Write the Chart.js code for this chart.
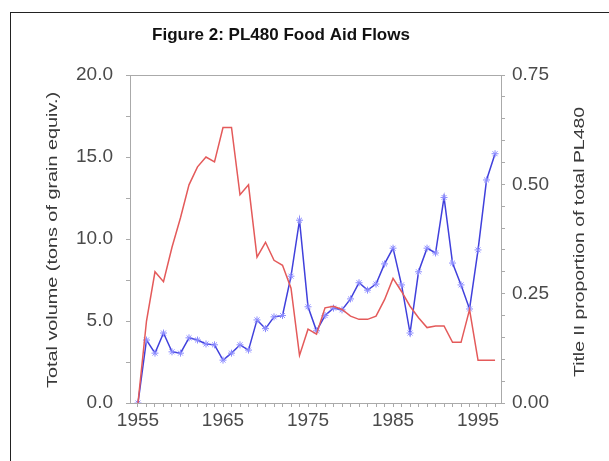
<!DOCTYPE html>
<html>
<head>
<meta charset="utf-8">
<script src="https://cdn.jsdelivr.net/npm/chart.js@4"></script>
<style>
    body { margin: 0; background: #fff; }
    #wrap { position: relative; width: 609px; height: 461px; overflow: hidden; }
    #frame { position: absolute; left: 10px; top: 12px; width: 700px; height: 600px; border: 1px solid #222; }
    #chart { position: absolute; left: 0; top: 0; }
</style>
</head>
<body>
<div id="wrap">
    <div id="frame"></div>
    <canvas id="chart" width="609" height="461"></canvas>
</div>
<script>
// Years on the x axis
const years = [1955, 1956, 1957, 1958, 1959, 1960, 1961, 1962, 1963, 1964,
    1965, 1966, 1967, 1968, 1969, 1970, 1971, 1972, 1973, 1974,
    1975, 1976, 1977, 1978, 1979, 1980, 1981, 1982, 1983, 1984,
    1985, 1986, 1987, 1988, 1989, 1990, 1991, 1992, 1993, 1994,
    1995, 1996, 1997];

// Total volume (left axis)
const totalVolume = [0, 5.0, 8.0, 7.4, 9.5, 11.3, 13.3, 14.4, 15.0, 14.7,
    16.8, 16.8, 12.7, 13.3, 8.9, 9.8, 8.7, 8.4, 7.0, 2.9,
    4.5, 4.2, 5.8, 5.9, 5.7, 5.3, 5.1, 5.1, 5.3, 6.3,
    7.6, 6.8, 5.9, 5.2, 4.6, 4.7, 4.7, 3.7, 3.7, 5.7,
    2.6, 2.6, 2.6];

// Title II proportion of total PL480 (right axis)
const titleIIShare = [0, 0.144, 0.114, 0.16, 0.117, 0.114, 0.149, 0.144, 0.135, 0.133,
    0.098, 0.114, 0.133, 0.121, 0.19, 0.17, 0.197, 0.2, 0.29, 0.418,
    0.22, 0.165, 0.2, 0.217, 0.213, 0.238, 0.275, 0.258, 0.272, 0.318,
    0.354, 0.27, 0.16, 0.30, 0.354, 0.343, 0.47, 0.32, 0.27, 0.215,
    0.35, 0.51, 0.57];

// Tick values
const yearTicks = years;
const labelledYears = [1955, 1965, 1975, 1985, 1995];
const leftTicks = [0, 2.5, 5, 7.5, 10, 12.5, 15, 17.5, 20];
const rightTicks = [0, 0.05, 0.1, 0.15, 0.2, 0.25, 0.3, 0.35, 0.4, 0.45, 0.5, 0.55, 0.6, 0.65, 0.7, 0.75];
const rightLabelled = [0, 0.25, 0.5, 0.75];

const fontFamily = 'Liberation Sans, Arial, sans-serif';
const tickFont = { family: fontFamily, size: 19 };

// draw vertical text (bottom to top) stretched to a given length
function verticalText(ctx, text, x, y, length) {
    ctx.save();
    ctx.font = '14px ' + fontFamily;
    const w = ctx.measureText(text).width;
    ctx.translate(x, y);
    ctx.rotate(-Math.PI / 2);
    ctx.scale(length / w, 1);
    ctx.fillText(text, 0, 0);
    ctx.restore();
}

// Title, axis titles and top border of the plot
const decorPlugin = {
    id: 'decor',
    afterDraw(chart) {
        const ctx = chart.ctx;
        const area = chart.chartArea;
        ctx.save();
        ctx.strokeStyle = '#aaa';
        ctx.lineWidth = 1;
        ctx.beginPath();
        ctx.moveTo(area.left, area.top + 0.5);
        ctx.lineTo(area.right, area.top + 0.5);
        ctx.stroke();

        ctx.fillStyle = '#111';
        ctx.font = 'bold 17px ' + fontFamily;
        ctx.textAlign = 'center';
        ctx.textBaseline = 'middle';
        ctx.fillText('Figure 2: PL480 Food Aid Flows', 281, 35);

        ctx.fillStyle = '#3a3a3a';
        verticalText(ctx, 'Total volume (tons of grain equiv.)', 53, 240, 296);
        verticalText(ctx, 'Title II proportion of total PL480', 580, 242, 270);
        ctx.restore();
    }
};

new Chart(document.getElementById('chart'), {
    type: 'line',
    data: {
        datasets: [{
            label: 'Total volume',
            data: years.map((y, i) => ({ x: y, y: totalVolume[i] })),
            yAxisID: 'y',
            borderColor: '#e45a5a',
            borderWidth: 1.5,
            pointRadius: 0,
            tension: 0
        }, {
            label: 'Title II proportion',
            data: years.map((y, i) => ({ x: y, y: titleIIShare[i] })),
            yAxisID: 'y1',
            borderColor: '#4040dc',
            borderWidth: 1.5,
            pointStyle: 'star',
            pointRadius: 3.5,
            pointBorderColor: '#8c8cff',
            pointBorderWidth: 1,
            tension: 0
        }]
    },
    options: {
        responsive: false,
        animation: false,
        layout: { padding: { top: 75, left: 0, right: 0, bottom: 0 } },
        plugins: {
            legend: { display: false },
            tooltip: { enabled: false }
        },
        scales: {
            x: {
                type: 'linear',
                min: 1954.06,
                max: 1997.7,
                afterBuildTicks: (scale) => { scale.ticks = yearTicks.map(v => ({ value: v })); },
                afterFit: (scale) => { scale.height = 58; },
                ticks: {
                    autoSkip: false,
                    maxRotation: 0,
                    font: tickFont,
                    color: '#4a4a4a',
                    padding: 2,
                    callback: (v) => labelledYears.includes(v) ? String(v) : ''
                },
                grid: { drawOnChartArea: false, tickLength: 4, color: '#aaa' },
                border: { color: '#aaa' }
            },
            y: {
                position: 'left',
                min: 0,
                max: 20,
                afterBuildTicks: (scale) => { scale.ticks = leftTicks.map(v => ({ value: v })); },
                afterFit: (scale) => { scale.width = 130; },
                ticks: {
                    autoSkip: false,
                    font: tickFont,
                    color: '#4a4a4a',
                    padding: 13,
                    callback: (v) => v % 5 === 0 ? v.toFixed(1) : ''
                },
                grid: { drawOnChartArea: false, tickLength: 4, color: '#aaa' },
                border: { color: '#aaa' }
            },
            y1: {
                position: 'right',
                min: 0,
                max: 0.75,
                afterBuildTicks: (scale) => { scale.ticks = rightTicks.map(v => ({ value: v })); },
                afterFit: (scale) => { scale.width = 108; },
                ticks: {
                    autoSkip: false,
                    font: tickFont,
                    color: '#4a4a4a',
                    padding: 7,
                    callback: (v) => rightLabelled.some(t => Math.abs(t - v) < 1e-6) ? v.toFixed(2) : ''
                },
                grid: { drawOnChartArea: false, tickLength: 4, color: '#aaa' },
                border: { color: '#aaa' }
            }
        }
    },
    plugins: [decorPlugin]
});
</script>
</body>
</html>
